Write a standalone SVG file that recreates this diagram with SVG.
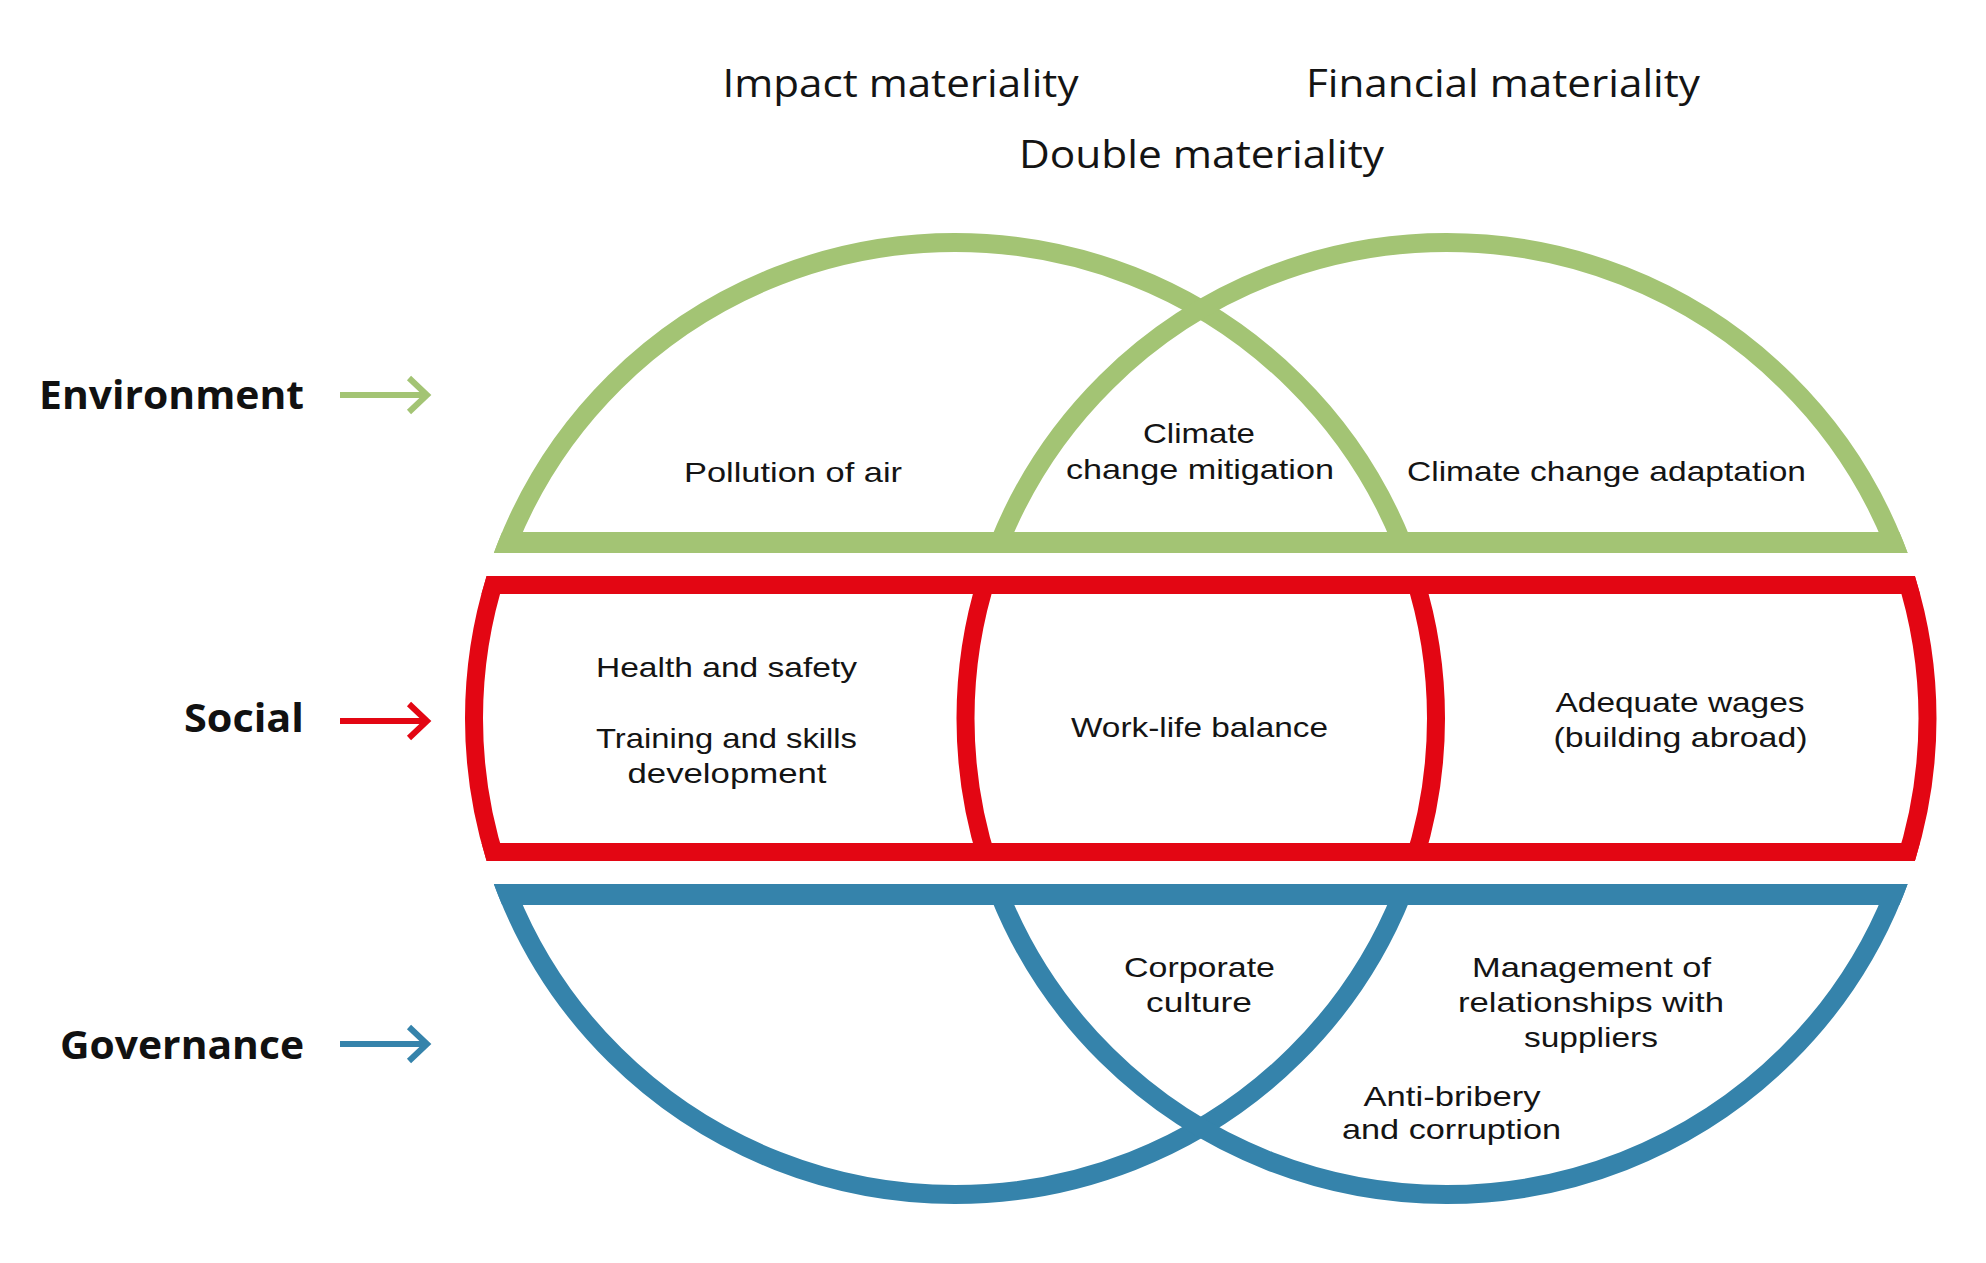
<svg xmlns="http://www.w3.org/2000/svg" width="1986" height="1263" viewBox="0 0 1986 1263">
<style>
.t{font-family:"Open Sans","Noto Sans","Liberation Sans",sans-serif;fill:#141414;text-anchor:middle}
.title{font-size:39px}
.body{font-family:"Liberation Sans",Arial,sans-serif;font-size:28px}
.lab{font-family:"Open Sans","Noto Sans","Liberation Sans",sans-serif;font-weight:bold;font-size:40px;fill:#111;text-anchor:end}
.g{stroke:#A3C474;fill:none;stroke-width:19}
.r{stroke:#E30613;fill:none;stroke-width:18}
.b{stroke:#3583AB;fill:none;stroke-width:19}
.gf{fill:#A3C474}
.rf{fill:#E30613}
.bf{fill:#3583AB}
.arr{fill:none;stroke-width:6;stroke-linejoin:miter}
</style>
<defs>
<clipPath id="bandG"><rect x="0" y="0" width="1986" height="553"/></clipPath>
<clipPath id="bandR"><rect x="0" y="576" width="1986" height="285"/></clipPath>
<clipPath id="bandB"><rect x="0" y="884" width="1986" height="379"/></clipPath>
<clipPath id="outer">
<ellipse cx="955" cy="718.5" rx="490.5" ry="485.5"/>
<ellipse cx="1446.5" cy="718.5" rx="490.5" ry="485.5"/>
</clipPath>
<clipPath id="outerR">
<ellipse cx="955" cy="718.5" rx="490" ry="485"/>
<ellipse cx="1446.5" cy="718.5" rx="490" ry="485"/>
</clipPath>
</defs>
<rect width="1986" height="1263" fill="#fff"/>

<g id="titles">
<text class="t title" x="900.5" y="96.5" textLength="356" lengthAdjust="spacingAndGlyphs">Impact materiality</text>
<text class="t title" x="1503" y="96.5" textLength="394" lengthAdjust="spacingAndGlyphs">Financial materiality</text>
<text class="t title" x="1201.5" y="167.5" textLength="365" lengthAdjust="spacingAndGlyphs">Double materiality</text>
</g>

<g id="environment-band">
<g clip-path="url(#bandG)">
<ellipse class="g" cx="955" cy="718.5" rx="481" ry="476"/>
<ellipse class="g" cx="1446.5" cy="718.5" rx="481" ry="476"/>
<rect class="gf" x="0" y="532" width="1986" height="21" clip-path="url(#outer)"/>
</g>
<text class="t body" x="793" y="481.5" textLength="218" lengthAdjust="spacingAndGlyphs">Pollution of air</text>
<text class="t body" x="1199" y="442.5" textLength="112" lengthAdjust="spacingAndGlyphs">Climate</text>
<text class="t body" x="1200" y="478.5" textLength="268" lengthAdjust="spacingAndGlyphs">change mitigation</text>
<text class="t body" x="1606.5" y="480.5" textLength="399" lengthAdjust="spacingAndGlyphs">Climate change adaptation</text>
</g>

<g id="social-band">
<g clip-path="url(#bandR)">
<ellipse class="r" cx="955" cy="718.5" rx="481" ry="476"/>
<ellipse class="r" cx="1446.5" cy="718.5" rx="481" ry="476"/>
<g clip-path="url(#outerR)">
<rect class="rf" x="0" y="576" width="1986" height="18"/>
<rect class="rf" x="0" y="843" width="1986" height="18"/>
</g>
</g>
<text class="t body" x="726.5" y="676.5" textLength="261" lengthAdjust="spacingAndGlyphs">Health and safety</text>
<text class="t body" x="726.5" y="747.5" textLength="261" lengthAdjust="spacingAndGlyphs">Training and skills</text>
<text class="t body" x="727" y="782.5" textLength="199" lengthAdjust="spacingAndGlyphs">development</text>
<text class="t body" x="1199.5" y="736.5" textLength="257" lengthAdjust="spacingAndGlyphs">Work-life balance</text>
<text class="t body" x="1680" y="711.5" textLength="249" lengthAdjust="spacingAndGlyphs">Adequate wages</text>
<text class="t body" x="1680.5" y="746.5" textLength="254" lengthAdjust="spacingAndGlyphs">(building abroad)</text>
</g>

<g id="governance-band">
<g clip-path="url(#bandB)">
<ellipse class="b" cx="955" cy="718.5" rx="481" ry="476"/>
<ellipse class="b" cx="1446.5" cy="718.5" rx="481" ry="476"/>
<rect class="bf" x="0" y="884" width="1986" height="21" clip-path="url(#outer)"/>
</g>
<text class="t body" x="1199.5" y="976.5" textLength="151" lengthAdjust="spacingAndGlyphs">Corporate</text>
<text class="t body" x="1199" y="1011.5" textLength="106" lengthAdjust="spacingAndGlyphs">culture</text>
<text class="t body" x="1591.5" y="976.5" textLength="239" lengthAdjust="spacingAndGlyphs">Management of</text>
<text class="t body" x="1591" y="1011.5" textLength="266" lengthAdjust="spacingAndGlyphs">relationships with</text>
<text class="t body" x="1591" y="1046.5" textLength="134" lengthAdjust="spacingAndGlyphs">suppliers</text>
<text class="t body" x="1452" y="1105.5" textLength="177" lengthAdjust="spacingAndGlyphs">Anti-bribery</text>
<text class="t body" x="1451.5" y="1138.5" textLength="219" lengthAdjust="spacingAndGlyphs">and corruption</text>
</g>

<g id="label-environment"><text class="lab" x="304" y="409" textLength="265" lengthAdjust="spacingAndGlyphs">Environment</text></g>
<g id="label-social"><text class="lab" x="304" y="731.5" textLength="120" lengthAdjust="spacingAndGlyphs">Social</text></g>
<g id="label-governance"><text class="lab" x="304" y="1058.5" textLength="244" lengthAdjust="spacingAndGlyphs">Governance</text></g>

<g id="connectors">
<path class="arr" stroke="#A3C474" d="M340 395H428M409 378L427 395L409 412"/>
<path class="arr" stroke="#E30613" d="M340 721H428M409 704L427 721L409 738"/>
<path class="arr" stroke="#3583AB" d="M340 1044H428M409 1027L427 1044L409 1061"/>
</g>
</svg>
